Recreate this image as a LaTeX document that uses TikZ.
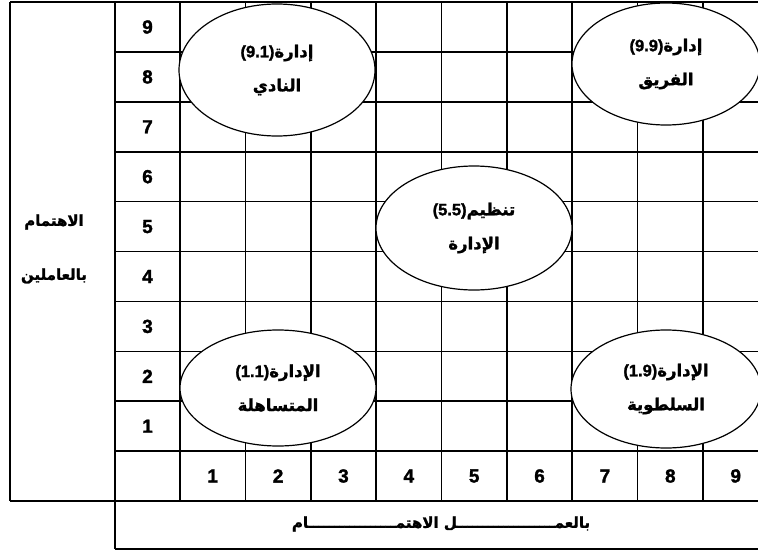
\documentclass[tikz,border=0pt]{standalone}
\usepackage{fontspec}
\setmainfont{Liberation Sans}
\newfontfamily\numfont[FakeBold=1.6]{Liberation Sans Bold}
\newfontfamily\arabicfont[Script=Arabic,FakeBold=1.6]{DejaVu Sans Bold}
\TeXXeTstate=1
\usetikzlibrary{shapes.geometric}
\newcommand{\ovaltext}[3]{\numfont#1{\arabicfont\beginR #2\endR}\\{\arabicfont\beginR #3\endR}}
\begin{document}
\begin{tikzpicture}[x=1pt,y=-1pt,
  gridline/.style={line width=1.6pt},
  oval/.style={ellipse, draw, fill=white, line width=1.2pt, inner sep=0pt, align=center,
    font=\numfont\fontsize{16.5}{34}\selectfont},
  num/.style={font=\numfont\fontsize{19}{22}\selectfont},
  artext/.style={font=\arabicfont\fontsize{15}{20}\selectfont}
]
\useasboundingbox (0,0) rectangle (758,554);
\clip (0,0) rectangle (758,554);
% grid
\draw[gridline] (10,2) -- (775,2);
\draw[gridline] (10,2) -- (10,501);
\draw[gridline] (115,2) -- (115,549);
\foreach \k in {0,...,9} {
  \draw[gridline] ({180+65.375*\k},2) -- ({180+65.375*\k},501);
}
\foreach \k in {1,...,9} {
  \draw[gridline] (115,{2+49.9*\k}) -- (775,{2+49.9*\k});
}
\draw[gridline] (10,501) -- (775,501);
\draw[gridline] (115,549) -- (775,549);
% row numbers
\foreach \n in {1,...,9} {
  \node[num] (r\n) at (147.5,{2+49.9*(9-\n)+25}) {\n};
}
% column numbers
\foreach \n in {1,...,9} {
  \node[num] (c\n) at ({180+65.375*(\n-1)+32.7},476) {\n};
}
% side labels
\node[artext] (y1) at (54,222) {\beginR الاهتمام\endR};
\node[artext] (y2) at (54,276) {\beginR بالعاملين\endR};
\node[artext] (x1) at (441,524) {\beginR بالعمـــــــــــــــــــل الاهتمـــــــــــــــــام\endR};
% ovals
\node[oval, minimum width=196pt, minimum height=132pt] (a) at (277,70)
  {\ovaltext{(9.1)}{إدارة}{النادي}};
\node[oval, minimum width=188pt, minimum height=122pt] (b) at (666,64)
  {\ovaltext{(9.9)}{إدارة}{الفريق}};
\node[oval, minimum width=196pt, minimum height=124pt] (c) at (474,228)
  {\ovaltext{(5.5)}{تنظيم}{الإدارة}};
\node[oval, minimum width=196pt, minimum height=116pt] (d) at (278,388)
  {\ovaltext{(1.1)}{الإدارة}{المتساهلة}};
\node[oval, minimum width=190pt, minimum height=118pt] (e) at (666,389)
  {\ovaltext{(1.9)}{الإدارة}{السلطوية}};
\end{tikzpicture}
\end{document}
